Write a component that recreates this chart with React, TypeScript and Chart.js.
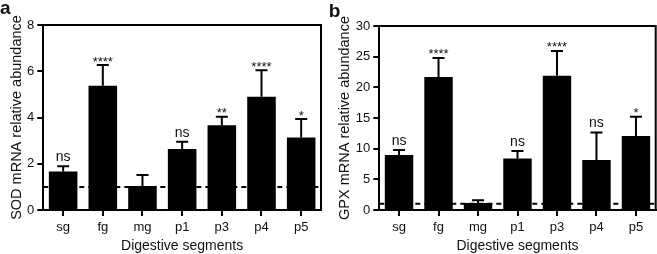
import React, { useEffect, useRef } from "react";
import { Chart, registerables } from "chart.js";

Chart.register(...registerables);

const categories = ["sg", "fg", "mg", "p1", "p3", "p4", "p5"];

const sodMeans = [1.66, 5.37, 1.04, 2.64, 3.67, 4.9, 3.14];
const sodErrors = [0.23, 0.9, 0.47, 0.31, 0.36, 1.14, 0.79];
const sodMarks = ["ns", "****", "", "ns", "**", "****", "*"];

const gpxMeans = [8.95, 21.7, 1.14, 8.41, 21.87, 8.14, 12.05];
const gpxErrors = [0.82, 3.1, 0.43, 1.19, 4.07, 4.5, 3.14];
const gpxMarks = ["ns", "****", "", "ns", "****", "ns", "*"];

const sodAxisMax = 8;
const sodAxisStep = 2;
const gpxAxisMax = 30;
const gpxAxisStep = 5;
const referenceLevel = 1;

const xTitle = "Digestive segments";
const sodTitle = "SOD mRNA relative abundance";
const gpxTitle = "GPX mRNA relative abundance";

const FONT = "'Liberation Sans', Arial, Helvetica, sans-serif";
const INK = "#111";

function overlayPlugin(errors: number[], marks: string[], ref: number) {
  return {
    id: "overlay",
    beforeDatasetsDraw(chart: any) {
      const { ctx, chartArea, scales } = chart;
      const y = scales.y.getPixelForValue(ref);
      ctx.save();
      ctx.strokeStyle = "#000";
      ctx.lineWidth = 2;
      ctx.setLineDash([5, 4]);
      ctx.beginPath();
      ctx.moveTo(chartArea.left, y);
      ctx.lineTo(chartArea.right, y);
      ctx.stroke();
      ctx.restore();
    },
    afterDatasetsDraw(chart: any) {
      const { ctx, chartArea, scales } = chart;
      const ys = scales.y;
      const meta = chart.getDatasetMeta(0);
      const values = chart.data.datasets[0].data as number[];
      ctx.save();
      ctx.strokeStyle = "#000";
      ctx.lineWidth = 2;
      ctx.setLineDash([]);
      meta.data.forEach((bar: any, i: number) => {
        const x = bar.x;
        const yv = ys.getPixelForValue(values[i]);
        const yt = ys.getPixelForValue(values[i] + errors[i]);
        ctx.beginPath();
        ctx.moveTo(x, yv);
        ctx.lineTo(x, yt);
        ctx.moveTo(x - 6, yt);
        ctx.lineTo(x + 6, yt);
        ctx.stroke();
        const m = marks[i];
        if (m) {
          ctx.fillStyle = INK;
          ctx.textAlign = "center";
          ctx.textBaseline = "alphabetic";
          if (m.startsWith("*")) {
            ctx.font = `13px ${FONT}`;
            ctx.fillText(m, x, yt + 0.5);
          } else {
            ctx.font = `14px ${FONT}`;
            ctx.fillText(m, x, yt - 5);
          }
        }
      });
      // frame: top and right
      ctx.beginPath();
      ctx.moveTo(chartArea.left, chartArea.top);
      ctx.lineTo(chartArea.right, chartArea.top);
      ctx.lineTo(chartArea.right, chartArea.bottom);
      ctx.stroke();
      ctx.restore();
    },
  };
}

type PanelProps = {
  means: number[];
  errors: number[];
  marks: string[];
  max: number;
  step: number;
  yTitle: string;
  width: number;
  left: number;
  yWidth: number;
  padTop: number;
  padRight: number;
};

function Panel(p: PanelProps) {
  const ref = useRef<HTMLCanvasElement | null>(null);
  useEffect(() => {
    if (!ref.current) return;
    const chart = new Chart(ref.current, {
      type: "bar",
      data: {
        labels: categories,
        datasets: [
          {
            data: p.means,
            backgroundColor: "#000",
            borderWidth: 0,
            barPercentage: 0.72,
            categoryPercentage: 1,
          },
        ],
      },
      options: {
        responsive: false,
        animation: false,
        devicePixelRatio: 1,
        layout: { padding: { left: 8.4, top: p.padTop, right: p.padRight, bottom: 0 } },
        plugins: { legend: { display: false }, tooltip: { enabled: false } },
        scales: {
          x: {
            ticks: { color: INK, font: { family: FONT, size: 13 }, padding: 3.5 },
            grid: {
              offset: false,
              drawOnChartArea: false,
              tickLength: 6,
              lineWidth: 2,
              color: "#000",
            },
            border: { display: true, width: 2, color: "#000" },
            title: {
              display: true,
              text: xTitle,
              color: INK,
              font: { family: FONT, size: 14 },
              padding: { top: 0, bottom: -0.8 },
            },
            afterFit: (s: any) => {
              s.height = 44;
            },
          },
          y: {
            min: 0,
            max: p.max,
            ticks: { stepSize: p.step, color: INK, font: { family: FONT, size: 13 }, padding: 3 },
            grid: {
              drawOnChartArea: false,
              tickLength: 6,
              lineWidth: 2,
              color: "#000",
            },
            border: { display: true, width: 2, color: "#000" },
            title: {
              display: true,
              text: p.yTitle,
              color: INK,
              font: { family: FONT, size: 14.5 },
              padding: 0,
            },
            afterFit: (s: any) => {
              s.width = p.yWidth;
            },
          },
        },
      },
      plugins: [overlayPlugin(p.errors, p.marks, referenceLevel)],
    } as any);
    return () => chart.destroy();
  }, []);
  return (
    <canvas
      ref={ref}
      width={p.width}
      height={254}
      style={{ position: "absolute", left: p.left, top: 0, width: p.width, height: 254, display: "block" }}
    />
  );
}

const labelStyle: React.CSSProperties = {
  position: "absolute",
  fontFamily: FONT,
  fontWeight: "bold",
  fontSize: 19,
  lineHeight: "19px",
  color: INK,
};

export default function App() {
  return (
    <div
      style={{
        position: "absolute",
        left: 0,
        top: 0,
        width: 657,
        height: 254,
        background: "#fff",
        overflow: "hidden",
      }}
    >
      <Panel
        means={sodMeans}
        errors={sodErrors}
        marks={sodMarks}
        max={sodAxisMax}
        step={sodAxisStep}
        yTitle={sodTitle}
        width={328}
        left={0}
        yWidth={34.9}
        padTop={25}
        padRight={7}
      />
      <Panel
        means={gpxMeans}
        errors={gpxErrors}
        marks={gpxMarks}
        max={gpxAxisMax}
        step={gpxAxisStep}
        yTitle={gpxTitle}
        width={329}
        left={328}
        yWidth={42.9}
        padTop={26}
        padRight={1.3}
      />
      <div style={{ ...labelStyle, left: 0, top: -1.6 }}>a</div>
      <div style={{ ...labelStyle, left: 328.7, top: 0.6 }}>b</div>
    </div>
  );
}
